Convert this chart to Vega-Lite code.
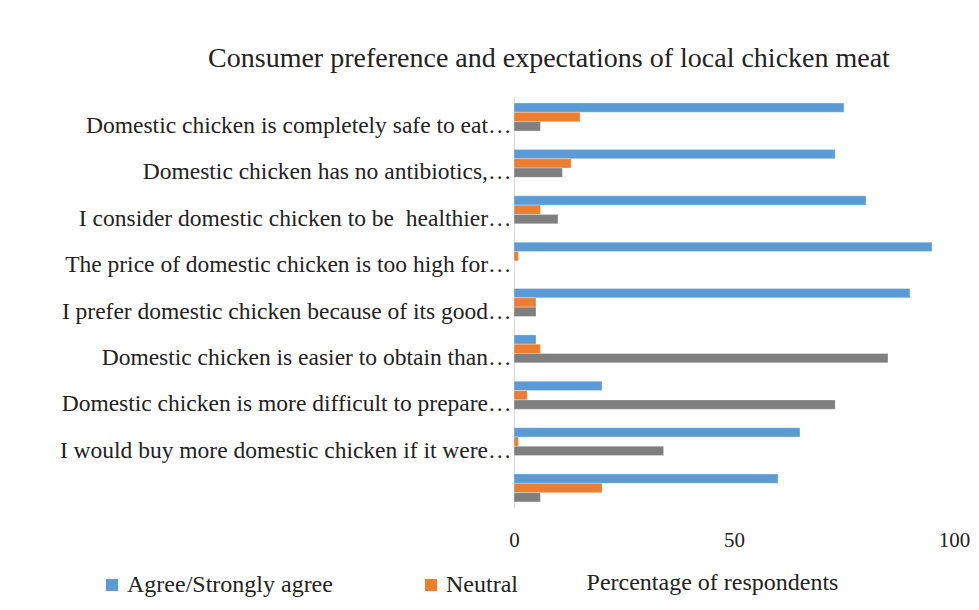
{
  "$schema": "https://vega.github.io/schema/vega-lite/v6.json",
  "autosize": "none",
  "width": 440,
  "height": 411,
  "padding": {"left": 514, "top": 97, "right": 25, "bottom": 102},
  "background": "white",
  "title": {
    "text": "Consumer preference and expectations of local chicken meat",
    "font": "Liberation Serif",
    "fontSize": 28,
    "fontWeight": "normal",
    "color": "#222222",
    "anchor": "middle",
    "frame": "group",
    "dx": -185,
    "offset": 24
  },
  "data": {
    "values": [
      {"statement": "Domestic chicken is completely safe to eat…", "response": "Agree/Strongly agree", "pct": 75},
      {"statement": "Domestic chicken is completely safe to eat…", "response": "Neutral", "pct": 15},
      {"statement": "Domestic chicken is completely safe to eat…", "response": "Disagree/Strongly disagree", "pct": 6},
      {"statement": "Domestic chicken has no antibiotics,…", "response": "Agree/Strongly agree", "pct": 73},
      {"statement": "Domestic chicken has no antibiotics,…", "response": "Neutral", "pct": 13},
      {"statement": "Domestic chicken has no antibiotics,…", "response": "Disagree/Strongly disagree", "pct": 11},
      {"statement": "I consider domestic chicken to be\u00a0 healthier…", "response": "Agree/Strongly agree", "pct": 80},
      {"statement": "I consider domestic chicken to be\u00a0 healthier…", "response": "Neutral", "pct": 6},
      {"statement": "I consider domestic chicken to be\u00a0 healthier…", "response": "Disagree/Strongly disagree", "pct": 10},
      {"statement": "The price of domestic chicken is too high for…", "response": "Agree/Strongly agree", "pct": 95},
      {"statement": "The price of domestic chicken is too high for…", "response": "Neutral", "pct": 1},
      {"statement": "The price of domestic chicken is too high for…", "response": "Disagree/Strongly disagree", "pct": 0},
      {"statement": "I prefer domestic chicken because of its good…", "response": "Agree/Strongly agree", "pct": 90},
      {"statement": "I prefer domestic chicken because of its good…", "response": "Neutral", "pct": 5},
      {"statement": "I prefer domestic chicken because of its good…", "response": "Disagree/Strongly disagree", "pct": 5},
      {"statement": "Domestic chicken is easier to obtain than…", "response": "Agree/Strongly agree", "pct": 5},
      {"statement": "Domestic chicken is easier to obtain than…", "response": "Neutral", "pct": 6},
      {"statement": "Domestic chicken is easier to obtain than…", "response": "Disagree/Strongly disagree", "pct": 85},
      {"statement": "Domestic chicken is more difficult to prepare…", "response": "Agree/Strongly agree", "pct": 20},
      {"statement": "Domestic chicken is more difficult to prepare…", "response": "Neutral", "pct": 3},
      {"statement": "Domestic chicken is more difficult to prepare…", "response": "Disagree/Strongly disagree", "pct": 73},
      {"statement": "I would buy more domestic chicken if it were…", "response": "Agree/Strongly agree", "pct": 65},
      {"statement": "I would buy more domestic chicken if it were…", "response": "Neutral", "pct": 1},
      {"statement": "I would buy more domestic chicken if it were…", "response": "Disagree/Strongly disagree", "pct": 34},
      {"statement": "", "response": "Agree/Strongly agree", "pct": 60},
      {"statement": "", "response": "Neutral", "pct": 20},
      {"statement": "", "response": "Disagree/Strongly disagree", "pct": 6}
    ]
  },
  "mark": {"type": "bar", "stroke": "white", "strokeWidth": 0.5, "strokeOpacity": 0.6},
  "encoding": {
    "y": {
      "field": "statement",
      "type": "nominal",
      "sort": [
        "Domestic chicken is completely safe to eat…",
        "Domestic chicken has no antibiotics,…",
        "I consider domestic chicken to be\u00a0 healthier…",
        "The price of domestic chicken is too high for…",
        "I prefer domestic chicken because of its good…",
        "Domestic chicken is easier to obtain than…",
        "Domestic chicken is more difficult to prepare…",
        "I would buy more domestic chicken if it were…",
        ""
      ],
      "scale": {"paddingInner": 0.397, "paddingOuter": 0.13},
      "axis": {
        "title": null,
        "ticks": false,
        "domain": true,
        "domainColor": "#d9d9d9",
        "domainWidth": 1,
        "labelFont": "Liberation Serif",
        "labelFontSize": 23.5,
        "labelColor": "#222222",
        "labelPadding": 3,
        "labelOffset": 9,
        "labelLimit": 600
      }
    },
    "yOffset": {
      "field": "response",
      "type": "nominal",
      "sort": ["Agree/Strongly agree", "Neutral", "Disagree/Strongly disagree"],
      "scale": {"paddingInner": 0, "paddingOuter": 0}
    },
    "x": {
      "field": "pct",
      "type": "quantitative",
      "scale": {"domain": [0, 100], "nice": false},
      "axis": {
        "title": "Percentage of respondents",
        "titleFont": "Liberation Serif",
        "titleFontSize": 24,
        "titleFontWeight": "normal",
        "titleColor": "#222222",
        "titlePadding": 20,
        "titleX": 198,
        "titleAlign": "center",
        "values": [0, 50, 100],
        "grid": false,
        "ticks": false,
        "domain": false,
        "labelFont": "Liberation Serif",
        "labelFontSize": 21,
        "labelColor": "#222222",
        "labelPadding": 21,
        "labelFlush": false
      }
    },
    "color": {
      "field": "response",
      "type": "nominal",
      "scale": {
        "domain": ["Agree/Strongly agree", "Neutral", "Disagree/Strongly disagree"],
        "range": ["#5B9BD5", "#ED7D31", "#7F7F7F"]
      },
      "legend": {
        "title": null,
        "values": ["Agree/Strongly agree", "Neutral"],
        "orient": "none",
        "direction": "horizontal",
        "legendX": -414,
        "legendY": 476,
        "symbolType": "square",
        "symbolSize": 144,
        "symbolStrokeWidth": 0,
        "labelFont": "Liberation Serif",
        "labelFontSize": 24,
        "labelColor": "#222222",
        "labelOffset": 3,
        "labelLimit": 400,
        "columnPadding": 86
      }
    }
  },
  "config": {"view": {"stroke": null}}
}
